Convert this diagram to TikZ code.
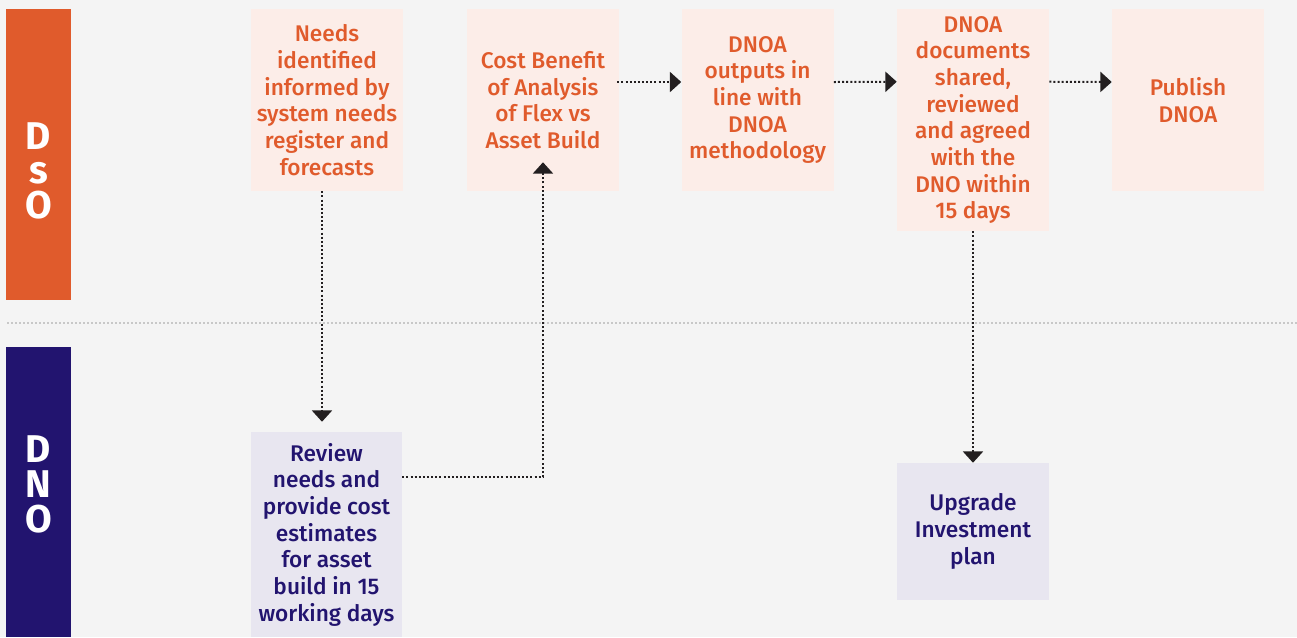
\documentclass[tikz,border=0pt]{standalone}
\usepackage{fontspec}
\setmainfont{Fira Sans}[UprightFont=* Medium, BoldFont=* Bold]
\usetikzlibrary{arrows.meta,calc}

\definecolor{pagebg}{HTML}{F4F4F4}
\definecolor{dsoorange}{HTML}{E05B2C}
\definecolor{dnoblue}{HTML}{22146F}
\definecolor{dsofill}{HTML}{FCEDE8}
\definecolor{dnofill}{HTML}{E8E6F0}
\definecolor{inkdark}{HTML}{231F20}
\definecolor{sepgray}{HTML}{C8C8C8}

% one unit = 0.75pt, y grows downward
\tikzset{
  stepbox/.style={rectangle, inner sep=0pt, align=center,
    font=\fontsize{17pt}{20pt}\selectfont, minimum width=114pt},
  dsobox/.style={stepbox, fill=dsofill, text=dsoorange},
  dnobox/.style={stepbox, fill=dnofill, text=dnoblue},
  flow/.style={draw=inkdark, line width=1.5pt,
    dash pattern=on 1.5pt off 1.6pt,
    -{Triangle[width=15pt,length=8.5pt]}},
  laneletter/.style={inner sep=0pt, anchor=base, text=white,
    font=\bfseries\fontsize{29pt}{29pt}\selectfont},
}

\begin{document}
\begin{tikzpicture}[x=0.75pt, y=-0.75pt]
  % page
  \fill[pagebg] (0,0) rectangle (1297,637);
  \useasboundingbox (0,0) rectangle (1297,637);

  % swim lanes
  \fill[dsoorange] (6,9) rectangle (71,300);
  \fill[dnoblue] (6,347) rectangle (71,637);
  \node[laneletter] (dso1) at (38.5,149) {D};
  \node[laneletter] (dso2) at (38.5,183) {s};
  \node[laneletter] (dso3) at (38.5,218) {O};
  \node[laneletter] (dno1) at (38.5,462) {D};
  \node[laneletter] (dno2) at (38.5,497) {N};
  \node[laneletter] (dno3) at (38.5,532) {O};
  \draw[sepgray, line width=1.4pt, dash pattern=on 1.4pt off 1.6pt]
    (7,323) -- (1297,323);

  % DSO steps
  \node[dsobox, minimum height=136.5pt] (b1) at (327,100)
    {Needs\\identified\\informed by\\system needs\\register and\\forecasts};
  \node[dsobox, minimum height=136.5pt] (b2) at (543,100)
    {Cost Benefit\\of Analysis\\of Flex vs\\Asset Build};
  \node[dsobox, minimum height=136.5pt] (b3) at (757.5,100)
    {DNOA\\outputs in\\line with\\DNOA\\methodology};
  \node[dsobox, minimum height=166.5pt] (b4) at (973,120)
    {DNOA\\documents\\shared,\\reviewed\\and agreed\\with the\\DNO within\\15 days};
  \node[dsobox, minimum height=136.5pt] (b5) at (1188,100)
    {Publish\\DNOA};

  % DNO steps
  \node[dnobox, minimum width=113.25pt, minimum height=153.75pt] (b6) at (326.5,534.5)
    {Review\\needs and\\provide cost\\estimates\\for asset\\build in 15\\working days};
  \node[dnobox, minimum height=102.75pt] (b7) at (973,531.5)
    {Upgrade\\Investment\\plan};

  % connectors
  \draw[flow] ($(b1.south)+(-5,0)$) -- ($(b6.north)+(-4.5,-10)$);
  \draw[flow] ($(b6.north east)+(0,45)$) -| ($(b2.south)+(0,-29)$);
  \draw[flow] ($(b2.east)+(-2,-18)$) -- ($(b3.west)+(0,-18)$);
  \draw[flow] ($(b3.east)+(0,-18)$) -- ($(b4.north west)+(0,73)$);
  \draw[flow] ($(b4.north east)+(0,73)$) -- ($(b5.west)+(0,-18)$);
  \draw[flow] (b4.south) -- (b7.north);
\end{tikzpicture}
\end{document}
